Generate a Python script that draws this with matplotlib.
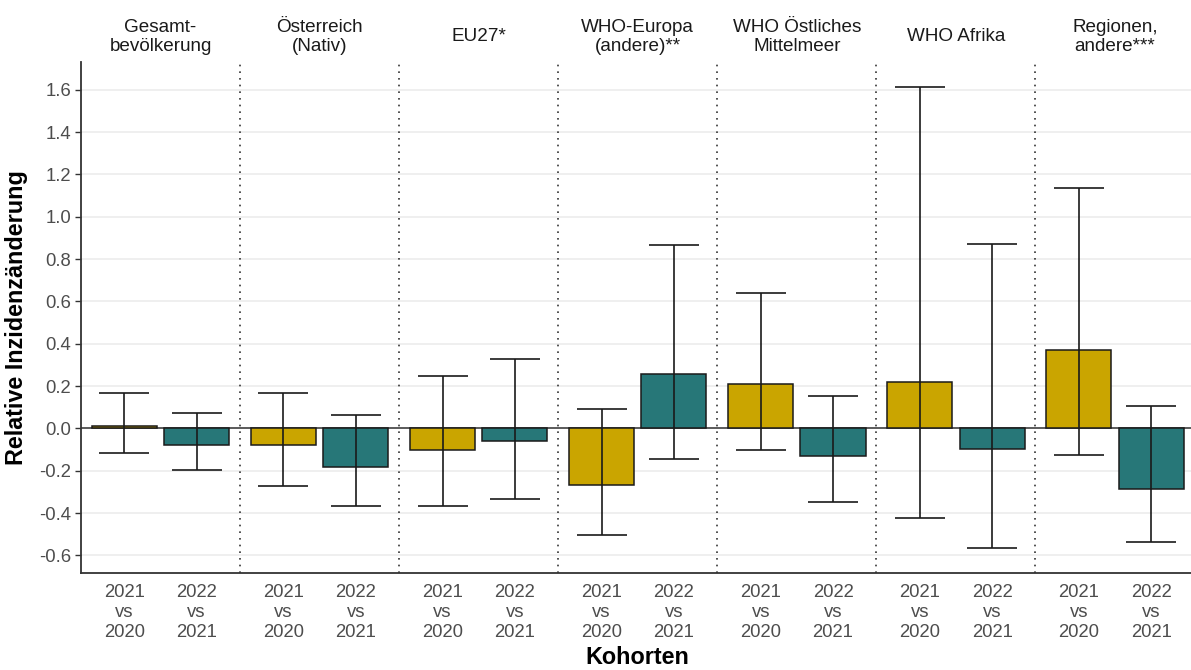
import matplotlib.pyplot as plt
import matplotlib.transforms as mtransforms
import numpy as np

# Regionen und Vergleichsjahre
regionen = ['Gesamt-\nbevölkerung', 'Österreich\n(Nativ)', 'EU27*', 'WHO-Europa\n(andere)**',
            'WHO Östliches\nMittelmeer', 'WHO Afrika', 'Regionen,\nandere***']
kohorten = ['2021\nvs\n2020', '2022\nvs\n2021']

# relative Inzidenzänderung mit Konfidenzintervall
wert_2021 = [0.014, -0.077, -0.104, -0.266, 0.208, 0.221, 0.369]
unten_2021 = [-0.118, -0.272, -0.364, -0.502, -0.104, -0.425, -0.126]
oben_2021 = [0.168, 0.168, 0.250, 0.090, 0.642, 1.613, 1.136]

wert_2022 = [-0.076, -0.183, -0.061, 0.257, -0.132, -0.098, -0.285]
unten_2022 = [-0.194, -0.364, -0.335, -0.146, -0.348, -0.565, -0.538]
oben_2022 = [0.071, 0.065, 0.328, 0.867, 0.152, 0.872, 0.105]

farben = ['#CAA500', '#277778']

plt.rcParams['font.family'] = ['Liberation Sans', 'DejaVu Sans']

fig = plt.figure(figsize=(11.91, 6.70), dpi=100)
ax = fig.add_axes([0.068, 0.145, 0.935, 0.763])

breite = 2.2  # Breite eines Regionenblocks
n = len(regionen)
basis = np.arange(n) * breite
serien = [(wert_2021, unten_2021, oben_2021), (wert_2022, unten_2022, oben_2022)]

ax.axhline(0, color='#333333', lw=1.1, zorder=1)

xticks, xlabels = [], []
for j, (wert, unten, oben) in enumerate(serien):
    x = basis + 0.6 + j
    wert = np.array(wert)
    yerr = [wert - np.array(unten), np.array(oben) - wert]
    ax.bar(x, wert, width=0.9, color=farben[j], edgecolor='#1a1a1a', linewidth=1.1, zorder=2)
    ax.errorbar(x, wert, yerr=yerr, fmt='none', ecolor='#1a1a1a', elinewidth=1.2,
                capsize=18, capthick=1.2, zorder=3)
    xticks += list(x)
    xlabels += [kohorten[j]] * n

# Trennlinien zwischen den Regionen
for b in basis[1:]:
    ax.axvline(b, color='#333333', lw=1.2, linestyle=(0, (1, 3)), zorder=1)

# Regionentitel über den Blöcken
trans = mtransforms.blended_transform_factory(ax.transData, ax.transAxes)
for b, name in zip(basis, regionen):
    ax.text(b + breite / 2, 1.049, name, transform=trans, ha='center', va='center',
            fontsize=13.6, color='#1a1a1a', linespacing=1.15)

ax.set_xticks(xticks)
ax.set_xticklabels(xlabels, linespacing=1.25)
ax.set_xlim(0, n * breite)
ax.set_ylim(-0.682, 1.733)
ax.set_yticks(np.arange(-0.6, 1.61, 0.2))
ax.set_yticklabels([f'{v:.1f}' for v in np.arange(-0.6, 1.61, 0.2)])

ax.tick_params(axis='x', length=0, pad=8, labelsize=13.3, labelcolor='#4d4d4d')
ax.tick_params(axis='y', length=4, width=1, color='#333333', pad=3, labelsize=13.3,
               labelcolor='#4d4d4d')

ax.grid(axis='y', color='#ebebeb', lw=1.1, zorder=0)
ax.set_axisbelow(True)
for s in ['top', 'right']:
    ax.spines[s].set_visible(False)
for s in ['left', 'bottom']:
    ax.spines[s].set_color('#333333')
    ax.spines[s].set_linewidth(1.3)

ax.set_ylabel('Relative Inzidenzänderung', fontsize=16.8, fontweight='bold', labelpad=8)
ax.set_xlabel('Kohorten', fontsize=16.8, fontweight='bold', labelpad=3)

fig.savefig('out.png', dpi=100)
